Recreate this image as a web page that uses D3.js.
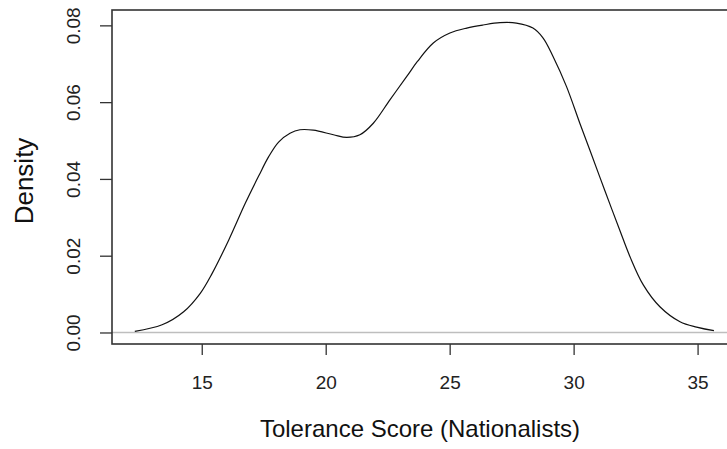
<!DOCTYPE html>
<html>
<head>
<meta charset="utf-8">
<script src="https://cdn.jsdelivr.net/npm/d3@7"></script>
<style>
  html, body { margin: 0; padding: 0; background: #fff; }
  svg { display: block; font-family: "Liberation Sans", Arial, sans-serif; }
</style>
</head>
<body>
<svg id="chart" width="727" height="449"></svg>
<script>
// Density curve: score (x) and density (y)
const scores = [12.30, 13.40, 14.27, 14.94, 15.42, 16.09, 16.76, 17.30, 17.70, 18.10, 18.56, 18.96, 19.50, 20.31, 20.85, 21.38, 21.92, 22.59, 23.27, 23.70, 24.34, 25.01, 25.69, 26.35, 27.03, 27.69, 28.36, 28.77, 29.17, 29.71, 30.25, 30.65, 31.05, 31.46, 31.87, 32.27, 32.81, 33.48, 34.29, 34.96, 35.66];
const densities = [0.0003, 0.0020, 0.0054, 0.0102, 0.0154, 0.0241, 0.0337, 0.0408, 0.0458, 0.0496, 0.0519, 0.0528, 0.0527, 0.0515, 0.0508, 0.0515, 0.0545, 0.0606, 0.0667, 0.0706, 0.0754, 0.0780, 0.0793, 0.0801, 0.0807, 0.0806, 0.0793, 0.0767, 0.0719, 0.0641, 0.0545, 0.0476, 0.0406, 0.0335, 0.0265, 0.0198, 0.0124, 0.0067, 0.0028, 0.0014, 0.0005];
const xTicks = [15, 20, 25, 30, 35];
const yTicks = [0.00, 0.02, 0.04, 0.06, 0.08];
const xTitle = "Tolerance Score (Nationalists)";
const yTitle = "Density";

(function () {
const svg = d3.select("#chart");
const pLeft = 112, pRight = 737, pTop = 10, pBottom = 344;

const x = d3.scaleLinear().domain([11.38, 36.59]).range([pLeft, pRight]);
const y = d3.scaleLinear().domain([-0.0030, 0.0840]).range([pBottom, pTop]);

const axisColor = "#333";

// zero reference line
svg.append("line")
  .attr("x1", pLeft).attr("x2", pRight)
  .attr("y1", y(0)).attr("y2", y(0))
  .attr("stroke", "#bebebe").attr("stroke-width", 1.3);

// density curve
const pts = scores.map((s, i) => [s, densities[i]]);
svg.append("path")
  .datum(pts)
  .attr("fill", "none")
  .attr("stroke", "#111")
  .attr("stroke-width", 1.2)
  .attr("d", d3.line().x(d => x(d[0])).y(d => y(d[1])).curve(d3.curveCatmullRom.alpha(0.5)));

// box
svg.append("rect")
  .attr("x", pLeft).attr("y", pTop)
  .attr("width", pRight - pLeft).attr("height", pBottom - pTop)
  .attr("fill", "none").attr("stroke", axisColor).attr("stroke-width", 1.6);

// x axis
const xAxis = d3.axisBottom(x).tickValues(xTicks).tickSize(11).tickFormat(d3.format("d"));
const gx = svg.append("g").attr("transform", `translate(0,${pBottom})`).call(xAxis);
gx.select(".domain").remove();
gx.selectAll(".tick line").attr("stroke", axisColor).attr("stroke-width", 1.3);
gx.selectAll(".tick text").attr("fill", "#222").style("font-size", "19px")
  .attr("y", 0).attr("dy", 0).attr("transform", "translate(0,45)");

// y axis
const yAxis = d3.axisLeft(y).tickValues(yTicks).tickSize(12).tickFormat(d3.format(".2f"));
const gy = svg.append("g").attr("transform", `translate(${pLeft},0)`).call(yAxis);
gy.select(".domain").remove();
gy.selectAll(".tick line").attr("stroke", axisColor).attr("stroke-width", 1.3);
gy.selectAll(".tick text").attr("fill", "#222").style("font-size", "19px")
  .attr("x", 0).attr("dy", 0)
  .attr("text-anchor", "middle")
  .attr("transform", "translate(-32,0) rotate(-90)");

// titles
svg.append("text")
  .attr("x", 420).attr("y", 437)
  .attr("text-anchor", "middle")
  .attr("fill", "#111")
  .style("font-size", "24px")
  .text(xTitle);

svg.append("text")
  .attr("transform", `translate(33,181) rotate(-90)`)
  .attr("text-anchor", "middle")
  .attr("fill", "#111")
  .style("font-size", "26px")
  .text(yTitle);
})();
</script>
</body>
</html>
